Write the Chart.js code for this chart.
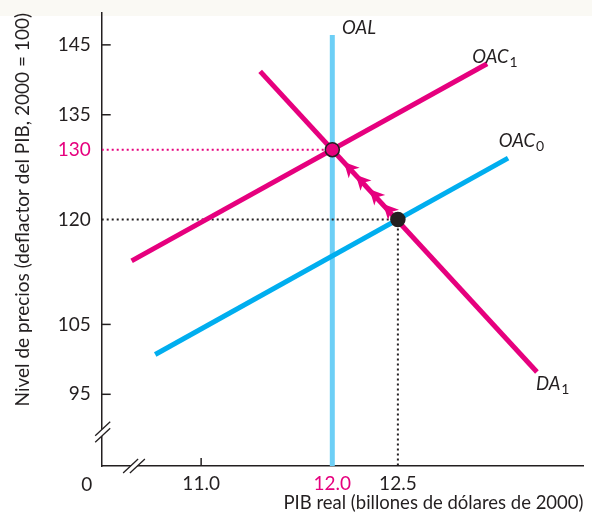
<!DOCTYPE html>
<html><head><meta charset="utf-8">
<script src="https://cdn.jsdelivr.net/npm/chart.js@4"></script>
<style>html,body{margin:0;padding:0;background:#fff;}canvas{display:block;}</style>
</head><body>
<canvas id="c" width="592" height="517"></canvas>
<script>
// ---- data ----
const xTickValues = [11.0, 12.0, 12.5];
const yTickValues = [95, 105, 120, 130, 135, 145];
const xRange = [10.242, 13.915];
const yRange = [84.74, 149.56];
const oalX = [12.0, 12.0];
const oalY = [84.74, 146.4];
const oac1X = [10.47, 13.18];
const oac1Y = [114.1, 142.3];
const oac0X = [10.65, 13.34];
const oac0Y = [100.7, 128.8];
const da1X = [11.45, 13.56];
const da1Y = [141.2, 98.2];
const eqX = [12.0, 12.5];
const eqY = [130, 120];
const arrowX = [12.125, 12.215, 12.32, 12.425];
const arrowY = [127.5, 125.7, 123.6, 121.5];
const guide130X = [xRange[0], 12.0];
const guide130Y = [130, 130];
const guide120X = [xRange[0], 12.5, 12.5];
const guide120Y = [120, 120, yRange[0]];

// ---- styles ----
const MAG = '#E6007E';
const BLUE = '#00AEEF';
const LBLUE = '#6DCFF6';
const INK = '#231F20';
const FAM = 'Lato, "Open Sans", sans-serif';

const pts = (xs, ys) => xs.map((x, i) => ({x, y: ys[i]}));

const curveLabels = [
  {text: 'OAL', sub: '', x: 12.074, y: 146.51},
  {text: 'OAC', sub: '1', x: 13.066, y: 142.36},
  {text: 'OAC', sub: '0', x: 13.269, y: 130.34},
  {text: 'DA', sub: '1', x: 13.552, y: 95.61}
];

const deco = {
  id: 'deco',
  beforeDraw(chart) {
    const ctx = chart.ctx;
    ctx.save();
    ctx.fillStyle = '#ffffff';
    ctx.fillRect(0, 0, chart.width, chart.height);
    ctx.fillStyle = '#FAF9F4';
    ctx.fillRect(0, 0, chart.width, 16);
    ctx.restore();
  },
  afterDatasetsDraw(chart) {
    const ctx = chart.ctx;
    const xs = chart.scales.x, ys = chart.scales.y;
    const ang = Math.atan2(ys.getPixelForValue(eqY[0]) - ys.getPixelForValue(eqY[1]),
                           xs.getPixelForValue(eqX[0]) - xs.getPixelForValue(eqX[1]));
    ctx.save();
    ctx.fillStyle = MAG;
    arrowX.forEach((ax, i) => {
      const px = xs.getPixelForValue(ax), py = ys.getPixelForValue(arrowY[i]);
      ctx.save();
      ctx.translate(px, py);
      ctx.rotate(ang);
      ctx.beginPath();
      ctx.moveTo(7, 0);
      ctx.lineTo(-8, -7.5);
      ctx.lineTo(-4, 0);
      ctx.lineTo(-8, 7.5);
      ctx.closePath();
      ctx.fill();
      ctx.restore();
    });
    ctx.restore();
  },
  afterDraw(chart) {
    const ctx = chart.ctx;
    const xs = chart.scales.x, ys = chart.scales.y;
    const ax = chart.chartArea.left, ay = chart.chartArea.bottom;
    ctx.save();
    ctx.strokeStyle = INK;
    ctx.lineWidth = 1.5;
    [95, 105, 135, 145].forEach(v => {
      const p = ys.getPixelForValue(v);
      ctx.beginPath(); ctx.moveTo(ax, p); ctx.lineTo(ax + 9, p); ctx.stroke();
    });
    [11.0].forEach(v => {
      const p = xs.getPixelForValue(v);
      ctx.beginPath(); ctx.moveTo(p, ay); ctx.lineTo(p, ay - 8); ctx.stroke();
    });
    const brk = (cx, cy, dx, dy, ox, oy) => {
      ctx.fillStyle = '#fff';
      ctx.beginPath();
      ctx.moveTo(cx - dx - ox, cy - dy - oy);
      ctx.lineTo(cx + dx - ox, cy + dy - oy);
      ctx.lineTo(cx + dx + ox, cy + dy + oy);
      ctx.lineTo(cx - dx + ox, cy - dy + oy);
      ctx.closePath(); ctx.fill();
      ctx.lineWidth = 1.3;
      [-1, 1].forEach(s => {
        ctx.beginPath();
        ctx.moveTo(cx - dx + s * ox, cy - dy + s * oy);
        ctx.lineTo(cx + dx + s * ox, cy + dy + s * oy);
        ctx.stroke();
      });
    };
    brk(ax + 1, 432, 7.5, -7, 0, 3.2);
    brk(134, ay, 7.5, -7, 3.4, 0);
    ctx.fillStyle = INK;
    ctx.font = '19px ' + FAM;
    ctx.textAlign = 'center';
    ctx.textBaseline = 'middle';
    ctx.fillText('0', ax - 15, ay + 19);
    ctx.textAlign = 'left';
    ctx.textBaseline = 'alphabetic';
    curveLabels.forEach(l => {
      const px = xs.getPixelForValue(l.x), py = ys.getPixelForValue(l.y);
      ctx.font = 'italic 18.5px ' + FAM;
      ctx.fillText(l.text, px, py);
      if (l.sub) {
        const w = ctx.measureText(l.text).width;
        ctx.font = '14px ' + FAM;
        ctx.fillText(l.sub, px + w + 1, py + 4);
      }
    });
    ctx.restore();
  }
};

new Chart(document.getElementById('c'), {
  type: 'line',
  data: {
    datasets: [
      {label: 'Equilibrio', data: pts(eqX, eqY), showLine: false, order: 0,
       pointRadius: 7, pointBorderWidth: 1.5, pointBorderColor: INK,
       pointBackgroundColor: [MAG, INK]},
      {label: 'DA1', data: pts(da1X, da1Y), borderColor: MAG, borderWidth: 5, pointRadius: 0, order: 1, borderCapStyle: 'butt'},
      {label: 'OAC1', data: pts(oac1X, oac1Y), borderColor: MAG, borderWidth: 5, pointRadius: 0, order: 1, borderCapStyle: 'butt'},
      {label: 'OAC0', data: pts(oac0X, oac0Y), borderColor: BLUE, borderWidth: 5, pointRadius: 0, order: 2, borderCapStyle: 'butt'},
      {label: 'g130', data: pts(guide130X, guide130Y), borderColor: MAG, borderWidth: 2, borderDash: [2, 3], pointRadius: 0, order: 3},
      {label: 'g120', data: pts(guide120X, guide120Y), borderColor: INK, borderWidth: 2, borderDash: [2, 3], pointRadius: 0, order: 3},
      {label: 'OAL', data: pts(oalX, oalY), borderColor: LBLUE, borderWidth: 5, pointRadius: 0, order: 4, borderCapStyle: 'butt'}
    ]
  },
  options: {
    responsive: false,
    animation: false,
    devicePixelRatio: 1,
    layout: {padding: {top: 13, right: 7, left: 0, bottom: 0}},
    plugins: {legend: {display: false}, tooltip: {enabled: false}},
    elements: {line: {tension: 0, fill: false}},
    scales: {
      x: {
        type: 'linear', min: xRange[0], max: xRange[1],
        afterBuildTicks: s => { s.ticks = xTickValues.map(v => ({value: v})); },
        afterFit: s => { s.height = 51; s.paddingLeft = 0; s.paddingRight = 0; },
        grid: {display: false, drawTicks: false},
        border: {display: true, color: INK, width: 1.5},
        ticks: {autoSkip: false, maxRotation: 0, padding: 6,
          callback: v => v.toFixed(1),
          color: c => (c.tick && c.tick.value === 12) ? MAG : INK,
          font: {family: FAM, size: 19}},
        title: {display: true, text: 'PIB real (billones de dólares de 2000)', align: 'end',
          color: INK, font: {family: FAM, size: 18.5}, padding: {top: 0, bottom: 3}}
      },
      y: {
        type: 'linear', min: yRange[0], max: yRange[1],
        afterBuildTicks: s => { s.ticks = yTickValues.map(v => ({value: v})); },
        afterFit: s => { s.width = 101.7; s.paddingTop = 0; s.paddingBottom = 0; },
        grid: {display: false, drawTicks: false},
        border: {display: true, color: INK, width: 1.5},
        ticks: {padding: 11,
          color: c => (c.tick && c.tick.value === 130) ? MAG : INK,
          font: {family: FAM, size: 19}},
        title: {display: true, text: 'Nivel de precios (deflactor del PIB, 2000 = 100)', align: 'end',
          color: INK, font: {family: FAM, size: 19}, padding: {top: 11, bottom: 0}}
      }
    }
  },
  plugins: [deco]
});
</script>
</body></html>
